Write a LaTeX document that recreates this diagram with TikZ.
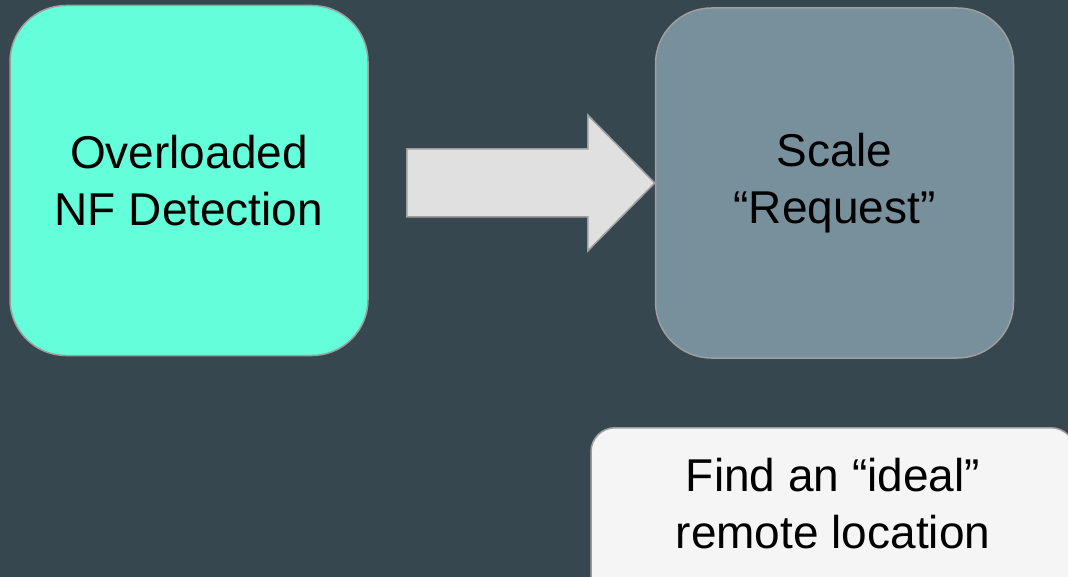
\documentclass[tikz,border=0pt]{standalone}
\usepackage{fontspec}
\setmainfont{Liberation Sans}
\usetikzlibrary{positioning, calc}
\definecolor{slate}{HTML}{37474F}
\definecolor{mint}{HTML}{64FFDA}
\definecolor{bluegrey}{HTML}{78909C}
\definecolor{paper}{HTML}{F5F5F5}
\definecolor{arrowfill}{HTML}{E0E0E0}
\definecolor{edgegray}{HTML}{9E9E9E}

\begin{document}
\begin{tikzpicture}[x=1pt, y=-1pt,
    card/.style={rectangle, draw=edgegray, line width=1.5pt, rounded corners=56pt, minimum width=358pt, minimum height=350pt, text centered, align=center, font=\fontsize{46}{57}\selectfont},
    note/.style={card, rounded corners=24pt, minimum width=484pt, minimum height=180pt},
    caption/.style={align=center, font=\fontsize{46}{57}\selectfont},
    blockarrow/.style={draw=edgegray, fill=arrowfill, line width=1.5pt, line join=miter}]
    % Canvas
    \clip (0,0) rectangle (1068,577);
    \fill[slate] (0,0) rectangle (1068,577);

    % Nodes
    \node[card, fill=mint] (detect) at (189,180.5) {Overloaded\\NF Detection};
    \node[card, fill=bluegrey] (scale) at (834.5,183) {Scale\\“Request”};
    \node[note, fill=paper, anchor=north] (locate) at (833,427) {};
    \node[caption] (locatetext) at ($(locate.north)+(0,76.5)$) {Find an “ideal”\\remote location};

    % Arrows
    \coordinate (tip) at (scale.west);
    \draw[blockarrow] (tip) -- ++(-67,-68) -- ++(0,34) -- ++(-181,0) -- ++(0,68) -- ++(181,0) -- ++(0,34) -- cycle;

\end{tikzpicture}
\end{document}
